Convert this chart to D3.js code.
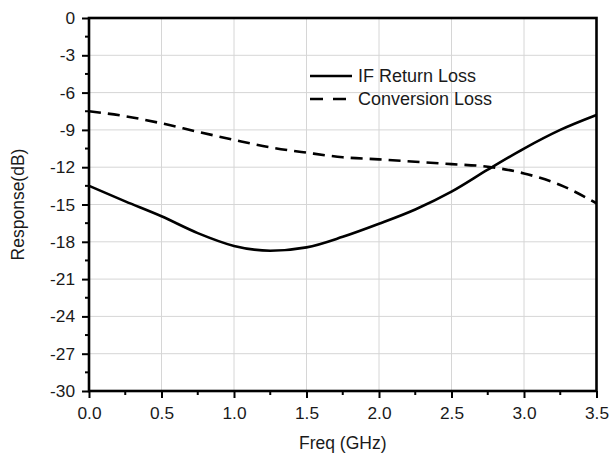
<!DOCTYPE html>
<html>
<head>
<meta charset="utf-8">
<script src="https://cdn.jsdelivr.net/npm/d3@7"></script>
<style>
  html, body { margin: 0; padding: 0; background: #fff; }
  svg { display: block; }
  text { font-family: "Liberation Sans", Arial, Helvetica, sans-serif; fill: #1a1a1a; }
</style>
</head>
<body>
<svg id="chart" width="612" height="455"></svg>
<script>
// Frequency sweep (GHz)
const freq = [0.0, 0.25, 0.5, 0.75, 1.0, 1.25, 1.5, 1.75, 2.0, 2.25, 2.5, 2.75, 3.0, 3.25, 3.5];
// IF return loss (dB)
const ifReturnLoss = [-13.5, -14.75, -15.95, -17.3, -18.33, -18.72, -18.45, -17.6, -16.55, -15.4, -13.97, -12.2, -10.5, -9.0, -7.8];
// Conversion loss (dB)
const conversionLoss = [-7.5, -7.9, -8.47, -9.15, -9.8, -10.4, -10.83, -11.2, -11.37, -11.56, -11.75, -11.96, -12.5, -13.43, -14.9];

const xTicks = [0.0, 0.5, 1.0, 1.5, 2.0, 2.5, 3.0, 3.5];
const yTicks = [0, -3, -6, -9, -12, -15, -18, -21, -24, -27, -30];
const seriesNames = ["IF Return Loss", "Conversion Loss"];

const margin = { left: 89, top: 18, right: 16, bottom: 64 };
const W = 612, H = 455;
const svg = d3.select("#chart");

const x = d3.scaleLinear().domain([0, 3.5]).range([margin.left, W - margin.right + 0.5]);
const y = d3.scaleLinear().domain([-30, 0]).range([H - margin.bottom, margin.top]);

// Grid
const grid = svg.append("g").attr("stroke", "#d6d6d6").attr("stroke-width", 1);
grid.selectAll("line.vx").data(xTicks.slice(1, -1)).join("line")
  .attr("x1", d => x(d)).attr("x2", d => x(d))
  .attr("y1", y(-30)).attr("y2", y(0));
grid.selectAll("line.hy").data(yTicks.slice(1, -1)).join("line")
  .attr("x1", x(0)).attr("x2", x(3.5))
  .attr("y1", d => y(d)).attr("y2", d => y(d));

// Curves
const line = d3.line().curve(d3.curveMonotoneX);
const ifPts = freq.map((f, i) => [x(f), y(ifReturnLoss[i])]);
const clPts = freq.map((f, i) => [x(f), y(conversionLoss[i])]);

svg.append("path").attr("d", line(clPts))
  .attr("fill", "none").attr("stroke", "#000").attr("stroke-width", 2.6)
  .attr("stroke-dasharray", "12,7");
svg.append("path").attr("d", line(ifPts))
  .attr("fill", "none").attr("stroke", "#000").attr("stroke-width", 2.6);

// Minor ticks
const xMinor = d3.range(0.25, 3.5, 0.5);
const yMinor = d3.range(-28.5, 0, 3);

// Axes
const xAxis = d3.axisBottom(x).tickValues(xTicks).tickFormat(d3.format(".1f")).tickSize(7).tickPadding(9);
const yAxis = d3.axisLeft(y).tickValues(yTicks).tickFormat(d => d3.format("d")(d).replace("−", "-")).tickSize(7).tickPadding(7);

const gx = svg.append("g").attr("transform", `translate(0,${y(-30)})`).call(xAxis);
const gy = svg.append("g").attr("transform", `translate(${x(0)},0)`).call(yAxis);
[gx, gy].forEach(g => {
  g.select(".domain").remove();
  g.selectAll(".tick line").attr("stroke", "#000").attr("stroke-width", 2);
  g.selectAll(".tick text").attr("font-size", 17.3).attr("fill", "#1a1a1a")
    .style("font-family", "'Liberation Sans', Arial, sans-serif");
});

svg.append("g").selectAll("line").data(xMinor).join("line")
  .attr("x1", d => x(d)).attr("x2", d => x(d))
  .attr("y1", y(-30)).attr("y2", y(-30) + 4)
  .attr("stroke", "#000").attr("stroke-width", 2);
svg.append("g").selectAll("line").data(yMinor).join("line")
  .attr("x1", x(0) - 4).attr("x2", x(0))
  .attr("y1", d => y(d)).attr("y2", d => y(d))
  .attr("stroke", "#000").attr("stroke-width", 2);

// Frame
svg.append("rect")
  .attr("x", x(0)).attr("y", y(0))
  .attr("width", x(3.5) - x(0)).attr("height", y(-30) - y(0))
  .attr("fill", "none").attr("stroke", "#000").attr("stroke-width", 2.6);

// Axis titles
svg.append("text").attr("x", (x(0) + x(3.5)) / 2).attr("y", 449)
  .attr("text-anchor", "middle").attr("font-size", 17.5).text("Freq (GHz)");
svg.append("text")
  .attr("transform", `translate(24,${(y(0) + y(-30)) / 2}) rotate(-90)`)
  .attr("text-anchor", "middle").attr("font-size", 17.5).text("Response(dB)");

// Legend
const legend = svg.append("g").attr("transform", "translate(310,76)");
seriesNames.forEach((name, i) => {
  const row = legend.append("g").attr("transform", `translate(0,${i * 23})`);
  row.append("line").attr("x1", 0).attr("x2", 42).attr("y1", 0).attr("y2", 0)
    .attr("stroke", "#000").attr("stroke-width", 2.6)
    .attr("stroke-dasharray", i === 1 ? "13,10" : null);
  row.append("text").attr("x", 48).attr("y", 6).attr("font-size", 18).text(name);
});
</script>
</body>
</html>
